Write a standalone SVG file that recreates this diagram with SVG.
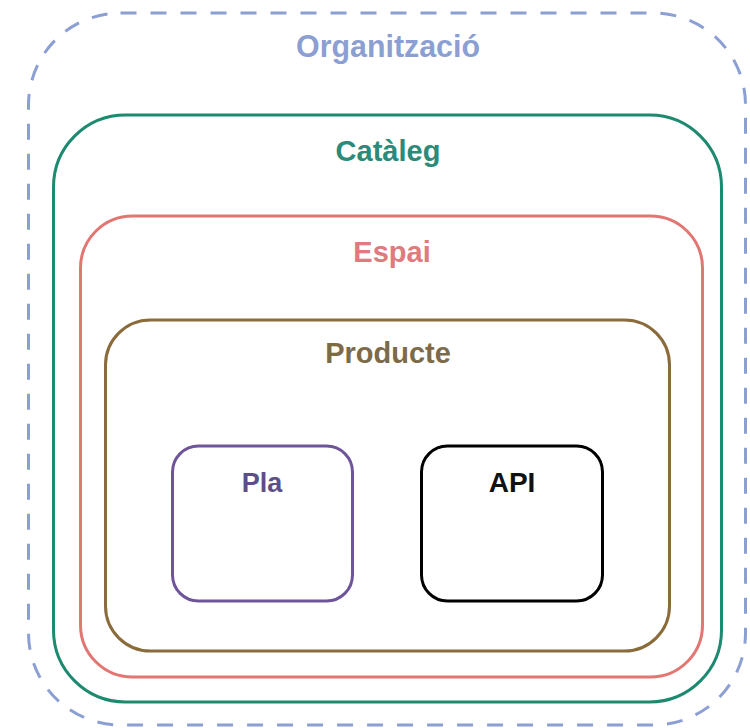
<svg xmlns="http://www.w3.org/2000/svg" width="750" height="728" viewBox="0 0 750 728">
<style>
  .box { fill: none; stroke-width: 3; }
  .lbl { font-family: "Liberation Sans", Arial, sans-serif; text-anchor: middle; }
  .b { font-weight: bold; }
</style>
<rect width="750" height="728" fill="#ffffff"/>
<g id="organitzacio">
  <rect class="box" x="28.5" y="13" width="717" height="712" rx="92" ry="92" stroke="#8c9fd3" stroke-dasharray="16 14"/>
  <text class="lbl b" x="388" y="57" font-size="32" fill="#8c9fd3" textLength="184" lengthAdjust="spacingAndGlyphs">Organització</text>
</g>
<g id="cataleg">
  <rect class="box" x="53.5" y="115" width="668" height="587" rx="72" ry="72" stroke="#1d8a6f"/>
  <text class="lbl b" x="388" y="161" font-size="29" fill="#2b8a78">Catàleg</text>
</g>
<g id="espai">
  <rect class="box" x="80.5" y="216" width="622" height="461" rx="52" ry="52" stroke="#e27673"/>
  <text class="lbl b" x="392" y="262" font-size="29" fill="#e07a7e">Espai</text>
</g>
<g id="producte">
  <rect class="box" x="105.5" y="320" width="564" height="331" rx="45" ry="45" stroke="#8a6c3c"/>
  <text class="lbl b" x="388" y="363" font-size="29" fill="#7d6a48">Producte</text>
</g>
<g id="pla">
  <rect class="box" x="172.5" y="446" width="180" height="155" rx="26" ry="26" stroke="#6e559a"/>
  <text class="lbl b" x="262" y="492" font-size="27" fill="#5e4e88">Pla</text>
</g>
<g id="api">
  <rect class="box" x="421.5" y="446" width="181" height="155" rx="26" ry="26" stroke="#000000"/>
  <text class="lbl b" x="512" y="492" font-size="28" fill="#111111">API</text>
</g>
<g id="connectors"></g>
</svg>
